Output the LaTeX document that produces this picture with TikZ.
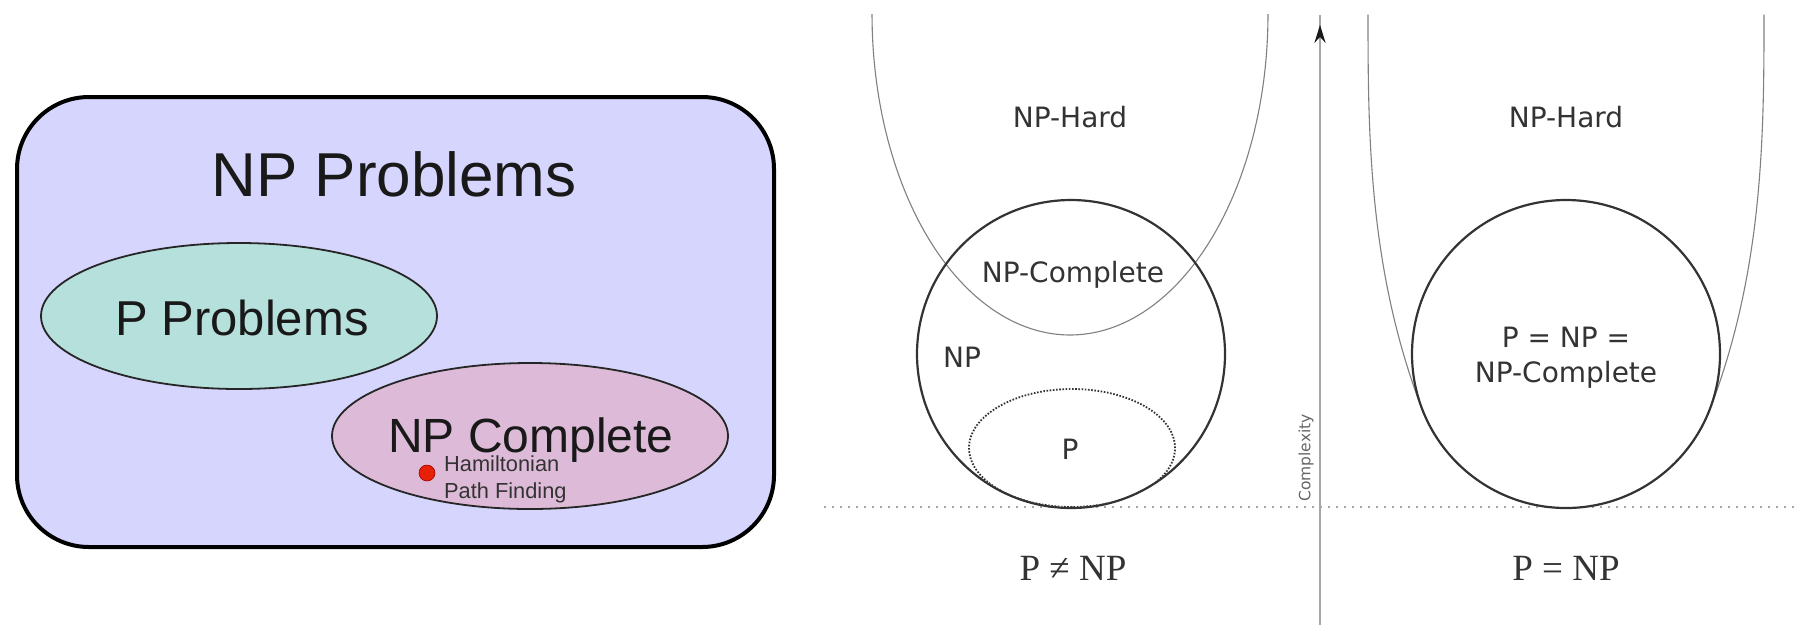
\documentclass[tikz,border=0pt]{standalone}
\usepackage{fontspec}
\setmainfont{Liberation Sans}
\newfontfamily\vera{DejaVu Sans}
\newfontfamily\formula{Liberation Serif}
\usetikzlibrary{arrows.meta,decorations.markings}

\definecolor{npbox}{RGB}{213,213,253}
\definecolor{pfill}{RGB}{181,224,219}
\definecolor{npcfill}{RGB}{221,187,216}
\definecolor{dotred}{RGB}{232,32,8}
\definecolor{ink}{RGB}{51,51,51}

\tikzset{
  bigset/.style={draw=black!85, line width=1.8pt},
  classring/.style={draw=ink, line width=2.2pt},
  hardcurve/.style={draw=black!50, line width=1.1pt},
  vlabel/.style={font=\vera\fontsize{28}{33}\selectfont, text=ink, anchor=base, inner sep=0pt},
  flabel/.style={font=\formula\fontsize{37}{42}\selectfont, text=ink, anchor=base, inner sep=0pt},
}

\begin{document}
\begin{tikzpicture}[x=1pt,y=-1pt]
\useasboundingbox (0,0) rectangle (1795,625);
\fill[white] (0,0) rectangle (1795,625);

% ---------------- NP problems overview ----------------
\draw[line width=4pt, fill=npbox, rounded corners=72pt] (17,97) rectangle (774,547);
\draw[bigset, fill=pfill] (239,316) ellipse[x radius=198pt, y radius=73pt];
\draw[bigset, fill=npcfill] (530,436) ellipse[x radius=198pt, y radius=73pt];

\node[anchor=base, inner sep=0pt, font=\fontsize{62}{70}\selectfont, text=black!90] (nptitle) at (394,196) {NP Problems};
\node[anchor=base, inner sep=0pt, font=\fontsize{49}{56}\selectfont, text=black!90] (ptitle) at (242,335) {P Problems};
\node[anchor=base, inner sep=0pt, text depth=0pt, font=\fontsize{48}{56}\selectfont, text=black!90] (npctitle) at (531,452) {NP Complete};

\fill[dotred, draw=red!60!black, line width=0.6pt] (427,473) circle[radius=8pt];
\node[anchor=base west, inner sep=0pt, font=\fontsize{21.8}{24}\selectfont, text=ink] (ham1) at (444,471) {Hamiltonian};
\node[anchor=base west, inner sep=0pt, font=\fontsize{21.8}{24}\selectfont, text=ink] (ham2) at (444,498) {Path Finding};

% ---------------- complexity axis and ground line ----------------
\coordinate (groundL) at (824,507);
\coordinate (groundR) at (1795,507);
\draw[black!35, line width=1.6pt, dash pattern=on 2pt off 6pt] (groundL) -- (groundR);

\coordinate (axisbottom) at (1320,625);
\coordinate (axistop) at (1320,15);
\draw[black!35, line width=2.7pt,
      postaction={decorate},
      decoration={markings, mark=at position 0.984 with {\arrow{Stealth[length=18pt, width=11pt, black!90]}}}]
  (axisbottom) -- (axistop);
\node[rotate=90, inner sep=0pt, font=\vera\fontsize{15.5}{17}\selectfont, text=black!60] (cplx) at (1306,458) {Complexity};

% ---------------- case P != NP ----------------
\draw[hardcurve] plot[domain=180:360, samples=120] ({1070+198*cos(\x)}, {14-321*sin(\x)});
\draw[classring] (1071,354) circle[radius=154pt];
\begin{scope}
  \clip (1071,354) circle[radius=153pt];
  \draw[ink, line width=1.8pt, dash pattern=on 1.6pt off 1.6pt] (1072,448) ellipse[x radius=103pt, y radius=59pt];
\end{scope}

\node[vlabel] (hardA) at (1070,127) {NP-Hard};
\node[vlabel] (npcA) at (1073,282) {NP-Complete};
\node[vlabel] (npA) at (962,367) {NP};
\node[vlabel] (pA) at (1070,459) {P};
\node[flabel] (neq) at (1073,580) {P ≠ NP};

% ---------------- case P = NP ----------------
% steep walls of the NP-hard region, running into the class circle
\draw[hardcurve] plot[domain=14.5:402, samples=120, variable=\t] ({1368+47*((\t-14)/376)^2.8}, {\t});
\draw[hardcurve] plot[domain=14.5:402, samples=120, variable=\t] ({1764-47*((\t-14)/376)^2.8}, {\t});
\draw[classring, fill=white] (1566,354) circle[radius=154pt];

\node[vlabel] (hardB) at (1566,127) {NP-Hard};
\node[vlabel] (eqA) at (1566,347) {P = NP =};
\node[vlabel] (eqB) at (1566,382) {NP-Complete};
\node[flabel] (eq) at (1566,580) {P = NP};
\end{tikzpicture}
\end{document}
